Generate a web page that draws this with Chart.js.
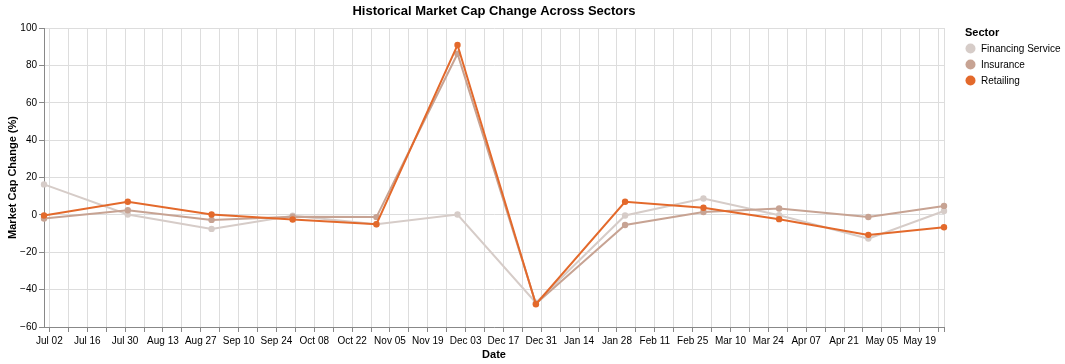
<!DOCTYPE html>
<html>
<head>
<meta charset="utf-8">
<script src="https://cdn.jsdelivr.net/npm/chart.js@4"></script>
<style>
  body { margin: 0; background: #fff; }
</style>
</head>
<body>
<canvas id="myChart" width="1065" height="364"></canvas>
<script>
// data
const dates = ['2023-06-30', '2023-07-31', '2023-08-31', '2023-09-30', '2023-10-31', '2023-11-30',
               '2023-12-29', '2024-01-31', '2024-02-29', '2024-03-28', '2024-04-30', '2024-05-28'];
const sectors = ['Financing Service', 'Insurance', 'Retailing'];
const sectorColors = ['#d6ccc8', '#c7a393', '#e3692b'];
const financingService = [16.3, 0.2, -7.5, -0.5, -5.0, 0.2, -47.0, -0.3, 8.8, -0.2, -12.7, 2.1];
const insurance = [-1.9, 2.5, -2.7, -1.0, -1.2, 86.2, -47.5, -5.4, 1.5, 3.4, -1.1, 4.8];
const retailing = [-0.3, 7.0, 0.2, -2.5, -5.0, 90.9, -47.8, 7.0, 3.8, -2.3, -10.7, -6.6];
const yTicks = [-60, -40, -20, 0, 20, 40, 60, 80, 100];
const firstTick = '2023-07-02';   // weekly ticks, every other one labelled
const monthNames = ['Jan', 'Feb', 'Mar', 'Apr', 'May', 'Jun', 'Jul', 'Aug', 'Sep', 'Oct', 'Nov', 'Dec'];

const DAY = 86400000;
const toDay = s => Date.parse(s + 'T00:00:00Z') / DAY;
const xs = dates.map(toDay);
const tick0 = toDay(firstTick);
const FONT = '"Liberation Sans", Arial, Helvetica, sans-serif';

const series = [financingService, insurance, retailing];
const datasets = series.map((vals, k) => ({
  label: sectors[k],
  data: vals.map((v, i) => ({ x: xs[i], y: v })),
  borderColor: sectorColors[k],
  backgroundColor: sectorColors[k],
  pointBackgroundColor: sectorColors[k],
  pointBorderWidth: 0,
  pointRadius: 3.2,
  borderWidth: 2,
  tension: 0,
  clip: false,
  order: 3 - k
}));

// title + legend drawn next to the plot
const extras = {
  id: 'extras',
  afterDraw(chart) {
    const ctx = chart.ctx;
    const a = chart.chartArea;
    ctx.save();
    ctx.fillStyle = '#000';
    ctx.textBaseline = 'middle';
    ctx.textAlign = 'center';
    ctx.font = 'bold 13px ' + FONT;
    ctx.fillText('Historical Market Cap Change Across Sectors', (a.left + a.right) / 2, 11);

    ctx.textAlign = 'left';
    ctx.font = 'bold 11px ' + FONT;
    ctx.fillText('Sector', 965, 33);
    ctx.font = '10px ' + FONT;
    sectors.forEach((s, i) => {
      const y = 48.5 + i * 16;
      ctx.beginPath();
      ctx.arc(970.5, y, 5, 0, Math.PI * 2);
      ctx.fillStyle = sectorColors[i];
      ctx.fill();
      ctx.fillStyle = '#000';
      ctx.fillText(s, 981, y + 0.5);
    });
    ctx.restore();
  }
};

const config = {
  type: 'line',
  data: { datasets },
  plugins: [extras],
  options: {
    responsive: false,
    animation: false,
    layout: { padding: { left: 0, top: 28, right: 121, bottom: 0 } },
    plugins: { legend: { display: false }, tooltip: { enabled: false } },
    scales: {
      x: {
        type: 'linear',
        min: xs[0],
        max: xs[xs.length - 1],
        afterFit: s => { s.height = 37; },
        afterBuildTicks: axis => {
          const t = [];
          for (let v = tick0; v < axis.max; v += 7) t.push({ value: v });
          t.push({ value: axis.max });
          axis.ticks = t;
        },
        grid: { color: '#ddd', tickColor: '#888', tickLength: 5 },
        border: { color: '#888' },
        ticks: {
          autoSkip: false,
          maxRotation: 0,
          padding: 3,
          color: '#000',
          font: { family: FONT, size: 10 },
          callback: v => {
            const w = Math.round((v - tick0) / 7);
            if (v >= xs[xs.length - 1] || w % 2 !== 0 || (v - tick0) % 7 !== 0) return '';
            const d = new Date(v * DAY);
            return monthNames[d.getUTCMonth()] + ' ' + String(d.getUTCDate()).padStart(2, '0');
          }
        },
        title: {
          display: true, text: 'Date', color: '#000',
          font: { family: FONT, size: 11, weight: 'bold' }, padding: { top: 0, bottom: 2 }
        }
      },
      y: {
        min: yTicks[0],
        max: yTicks[yTicks.length - 1],
        afterFit: s => { s.width = 44; },
        afterBuildTicks: axis => { axis.ticks = yTicks.map(v => ({ value: v })); },
        grid: { color: '#ddd', tickColor: '#888', tickLength: 5 },
        border: { color: '#888' },
        ticks: {
          padding: 2,
          color: '#000',
          font: { family: FONT, size: 10 },
          callback: v => (v < 0 ? '\u2212' + Math.abs(v) : String(v))
        },
        title: {
          display: true, text: 'Market Cap Change (%)', color: '#000',
          font: { family: FONT, size: 11, weight: 'bold' }, padding: { top: 6, bottom: 0 }
        }
      }
    }
  }
};

const myChart = new Chart(document.getElementById('myChart'), config);
</script>
</body>
</html>
